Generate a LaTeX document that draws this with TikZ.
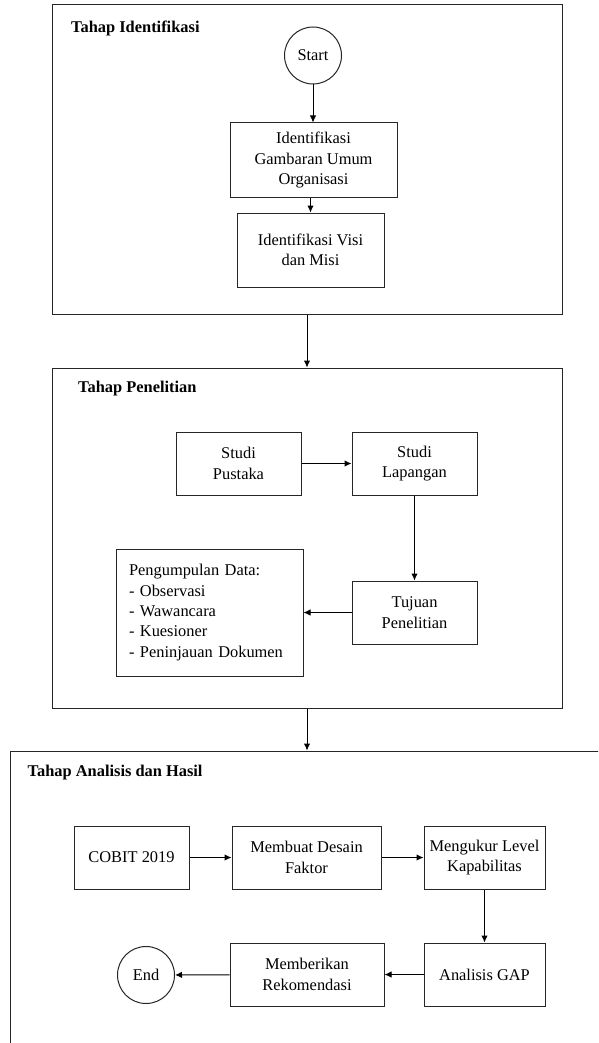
\documentclass[tikz,border=0pt]{standalone}
\usepackage{fontspec}
\setmainfont{Liberation Serif}
\usetikzlibrary{arrows.meta}
\tikzset{
  every node/.style={font=\fontsize{16.4}{20.3}\selectfont},
  container/.style={draw=black!85, line width=1pt, rectangle, inner sep=0pt},
  stepbox/.style={draw=black!85, line width=1pt, rectangle, align=center, inner sep=0pt},
  term/.style={draw=black!85, line width=1pt, circle, minimum size=57pt, inner sep=0pt},
  title/.style={anchor=west, font=\fontsize{16.4}{20}\selectfont\bfseries, inner sep=0pt},
  arr/.style={line width=1pt, draw=black, -{Latex[length=7pt,width=6.5pt]}}
}
\begin{document}
\begin{tikzpicture}[x=1pt,y=-1pt]
\useasboundingbox (0,0) rectangle (598,1043);
\clip (0,0) rectangle (598,1043);
\fill[white] (0,0) rectangle (598,1043);
% containers
\node[container, minimum width=510pt, minimum height=309pt] (box1) at (307,159.5) {};
\node[container, minimum width=510pt, minimum height=340pt] (box2) at (307,538) {};
\node[container, minimum width=593pt, minimum height=320pt] (box3) at (307,911) {};
% titles
\node[title] (t1) at (71,28) {Tahap Identifikasi};
\node[title] (t2) at (78,389) {Tahap Penelitian};
\node[title] (t3) at (27.5,773) {Tahap Analisis dan Hasil};
% stage 1
\node[term] (start) at (313,55.5) {Start};
\node[stepbox, minimum width=167pt, minimum height=74pt] (guo) at (313.5,160) {Identifikasi\\Gambaran Umum\\Organisasi};
\node[stepbox, minimum width=147pt, minimum height=74pt] (visi) at (310.5,250) {Identifikasi Visi\\dan Misi};
% stage 2
\node[stepbox, minimum width=125pt, minimum height=63pt] (sp) at (238.5,463.5) {Studi\\Pustaka};
\node[stepbox, minimum width=125pt, minimum height=63pt] (sl) at (414.5,463.5) {Studi\\Lapangan};
\node[stepbox, minimum width=125pt, minimum height=63pt] (tj) at (414.5,612.5) {Tujuan\\Penelitian};
\node[stepbox, minimum width=187pt, minimum height=127pt, text width=161pt, align=left] (pd) at (209.5,612.5) {Pengumpulan Data:\\- Observasi\\- Wawancara\\- Kuesioner\\- Peninjauan Dokumen};
% stage 3
\node[stepbox, minimum width=115pt, minimum height=63pt] (cobit) at (131.5,857.5) {COBIT 2019};
\node[stepbox, minimum width=149pt, minimum height=63pt] (mdf) at (306.5,857.5) {Membuat Desain\\Faktor};
\node[stepbox, minimum width=121pt, minimum height=63pt] (mlk) at (484.5,857.5) {Mengukur Level\\Kapabilitas};
\node[stepbox, minimum width=121pt, minimum height=63pt] (gap) at (484.5,974.5) {Analisis GAP};
\node[stepbox, minimum width=154pt, minimum height=63pt] (mr) at (307,974.5) {Memberikan\\Rekomendasi};
\node[term] (end) at (146,975) {End};
% connectors
\draw[arr] (start) -- (start |- guo.north);
\draw[arr] (visi.north |- guo.south) -- (visi.north);
\draw[arr] (box1.south) -- (box2.north);
\draw[arr] (box2.south) -- (box3.north);
\draw[arr] (sp) -- (sl);
\draw[arr] (sl) -- (tj);
\draw[arr] (tj) -- (pd);
\draw[arr] (cobit) -- (mdf);
\draw[arr] (mdf) -- (mlk);
\draw[arr] (mlk) -- (gap);
\draw[arr] (gap) -- (mr);
\draw[arr] (mr) -- (end);
\end{tikzpicture}
\end{document}
